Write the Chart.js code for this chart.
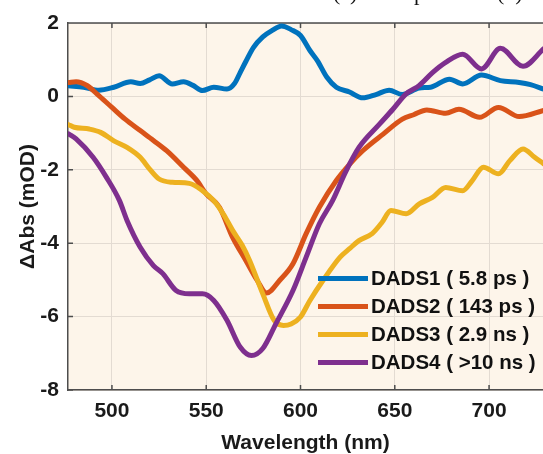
<!DOCTYPE html>
<html>
<head>
<meta charset="utf-8">
<script src="https://cdn.jsdelivr.net/npm/chart.js@4.4.1/dist/chart.umd.min.js"></script>
<style>
  html, body { margin: 0; padding: 0; background: #fff; overflow: hidden; }
  #wrap { position: relative; width: 543px; height: 454px; }
  .cap { position: absolute; top: -18px; font: 22px/22px "Liberation Serif", "Times New Roman", serif; color: #111; white-space: nowrap; }
</style>
</head>
<body>
<div id="wrap">
  <canvas id="chart" width="543" height="454"></canvas>
  <span class="cap" style="left:333px">(c)</span>
  <span class="cap" style="left:375px">Sample</span>
  <span class="cap" style="left:497px">(d)</span>
</div>
<script>
// wavelength (nm) and ΔAbs (mOD)
const dads1Wl = [477, 485, 493, 501, 510, 515, 520, 525, 532, 538, 543, 548, 554, 561, 565, 568, 571, 575, 580, 585, 590, 595, 600, 605, 609, 614, 619, 626, 633, 640, 647, 654, 663, 669, 679, 686, 696, 706, 716, 722, 729];
const dads1 = [0.29, 0.25, 0.17, 0.25, 0.40, 0.35, 0.45, 0.56, 0.34, 0.40, 0.30, 0.16, 0.25, 0.20, 0.35, 0.65, 0.95, 1.33, 1.62, 1.80, 1.92, 1.82, 1.66, 1.25, 0.97, 0.52, 0.25, 0.12, -0.04, 0.05, 0.17, 0.05, 0.23, 0.25, 0.47, 0.34, 0.58, 0.43, 0.38, 0.32, 0.20];

const dads2Wl = [477, 481, 487, 492, 500, 507, 515, 522, 529, 538, 545, 550, 557, 564, 571, 577, 582, 589, 596, 603, 610, 619, 626, 633, 644, 654, 660, 667, 677, 684, 695, 705, 716, 729];
const dads2 = [0.38, 0.40, 0.29, 0.07, -0.30, -0.62, -0.93, -1.20, -1.48, -1.93, -2.29, -2.66, -3.02, -3.84, -4.47, -5.01, -5.36, -5.01, -4.56, -3.74, -3.02, -2.29, -1.85, -1.48, -1.02, -0.62, -0.50, -0.37, -0.46, -0.35, -0.57, -0.30, -0.55, -0.38];

const dads3Wl = [477, 480, 488, 494, 501, 508, 515, 520, 525, 532, 541, 548, 554, 559, 564, 569, 573, 580, 586, 591, 595, 600, 605, 612, 621, 626, 631, 638, 643, 648, 656, 663, 670, 677, 686, 691, 697, 705, 711, 718, 724, 729];
const dads3 = [-0.77, -0.84, -0.89, -0.98, -1.21, -1.39, -1.66, -1.98, -2.25, -2.34, -2.37, -2.57, -2.84, -3.20, -3.65, -4.05, -4.47, -5.38, -6.10, -6.24, -6.20, -6.01, -5.56, -5.01, -4.38, -4.15, -3.93, -3.74, -3.45, -3.11, -3.20, -2.93, -2.75, -2.48, -2.57, -2.30, -1.93, -2.11, -1.75, -1.43, -1.65, -1.84];

const dads4Wl = [477, 481, 490, 497, 504, 508, 515, 522, 527, 534, 541, 548, 554, 561, 568, 574, 580, 587, 596, 603, 610, 617, 624, 631, 642, 649, 656, 663, 670, 677, 686, 696, 706, 718, 729];
const dads4 = [-1.02, -1.16, -1.66, -2.20, -2.84, -3.38, -4.11, -4.61, -4.83, -5.29, -5.38, -5.38, -5.56, -6.10, -6.83, -7.06, -6.87, -6.19, -5.29, -4.38, -3.47, -2.84, -2.05, -1.39, -0.75, -0.35, 0.07, 0.30, 0.65, 0.93, 1.15, 0.75, 1.31, 0.82, 1.30];

const seriesLabels = ['DADS1 ( 5.8 ps )', 'DADS2 ( 143 ps )', 'DADS3 ( 2.9 ns )', 'DADS4 ( >10 ns )'];
const seriesColors = ['#0072BD', '#D95319', '#EDB120', '#7E2F8E'];
const xTicks = [500, 550, 600, 650, 700];
const yTicks = [-8, -6, -4, -2, 0, 2];

const FONT = '"Liberation Sans", Arial, sans-serif';
Chart.defaults.font.family = FONT;

const toPoints = (wl, v) => wl.map((x, i) => ({ x: x, y: v[i] }));
const allSeries = [[dads1Wl, dads1], [dads2Wl, dads2], [dads3Wl, dads3], [dads4Wl, dads4]];

// cream plot area, box outline, inward tick marks
const axesDeco = {
  id: 'axesDeco',
  beforeDraw(chart) {
    const { ctx, chartArea: a } = chart;
    ctx.save();
    ctx.fillStyle = '#fdf5ea';
    ctx.fillRect(a.left, a.top, a.right - a.left, a.bottom - a.top);
    ctx.restore();
  },
  beforeDatasetsDraw(chart) {
    const { ctx, chartArea: a, scales } = chart;
    ctx.save();
    ctx.strokeStyle = '#4d4d4d';
    ctx.lineWidth = 1.5;
    ctx.beginPath();
    ctx.moveTo(a.left, a.top);
    ctx.lineTo(a.right, a.top);
    xTicks.forEach((t) => {
      const px = scales.x.getPixelForValue(t);
      ctx.moveTo(px, a.bottom);
      ctx.lineTo(px, a.bottom - 5);
      ctx.moveTo(px, a.top);
      ctx.lineTo(px, a.top + 5);
    });
    yTicks.forEach((t) => {
      const py = scales.y.getPixelForValue(t);
      ctx.moveTo(a.left, py);
      ctx.lineTo(a.left + 5, py);
    });
    ctx.stroke();
    ctx.restore();
  },
  afterDraw(chart) {
    const { ctx, chartArea: a } = chart;
    ctx.save();
    ctx.font = 'bold 20.5px ' + FONT;
    ctx.textBaseline = 'middle';
    ctx.fillStyle = '#111';
    chart.data.datasets.forEach((ds, i) => {
      const y = a.bottom - 111.5 + i * 28;
      const x0 = a.left + 250;
      ctx.strokeStyle = ds.borderColor;
      ctx.lineWidth = 5;
      ctx.beginPath();
      ctx.moveTo(x0, y);
      ctx.lineTo(x0 + 50, y);
      ctx.stroke();
      ctx.fillText(ds.label, x0 + 53, y + 1);
    });
    ctx.restore();
  }
};

new Chart(document.getElementById('chart'), {
  type: 'line',
  data: {
    datasets: allSeries.map(([wl, v], i) => ({
      label: seriesLabels[i],
      data: toPoints(wl, v),
      borderColor: seriesColors[i],
      borderWidth: 5,
      pointRadius: 0,
      cubicInterpolationMode: 'monotone',
      borderJoinStyle: 'round',
      borderCapStyle: 'round',
      order: 3 - i,
    })),
  },
  options: {
    responsive: false,
    animation: false,
    devicePixelRatio: 1,
    layout: { padding: { top: 23, right: 0, left: 0, bottom: 0 } },
    plugins: { legend: { display: false }, tooltip: { enabled: false } },
    scales: {
      x: {
        type: 'linear',
        min: 476.7,
        max: 728.6,
        afterBuildTicks: (s) => { s.ticks = xTicks.map((v) => ({ value: v })); },
        afterFit: (s) => { s.height = 64; },
        ticks: { font: { size: 21, weight: 'bold' }, color: '#1a1a1a', padding: 9, maxRotation: 0 },
        grid: { color: '#e3dbd2', lineWidth: 1, drawTicks: false },
        border: { display: true, color: '#4d4d4d', width: 1.5 },
        title: { display: true, text: 'Wavelength (nm)', font: { size: 21, weight: 'bold', lineHeight: 1.0 }, color: '#1a1a1a', padding: { top: 0, bottom: 0 } },
      },
      y: {
        min: -8,
        max: 2,
        afterBuildTicks: (s) => { s.ticks = yTicks.map((v) => ({ value: v })); },
        afterFit: (s) => { s.width = 68; },
        ticks: { font: { size: 21, weight: 'bold' }, color: '#1a1a1a', padding: 9 },
        grid: { color: '#e3dbd2', lineWidth: 1, drawTicks: false },
        border: { display: true, color: '#4d4d4d', width: 1.5 },
        title: { display: true, text: 'ΔAbs (mOD)', font: { size: 21, weight: 'bold' }, color: '#1a1a1a', padding: { top: 16, bottom: 0 } },
      },
    },
  },
  plugins: [axesDeco],
});
</script>
</body>
</html>
